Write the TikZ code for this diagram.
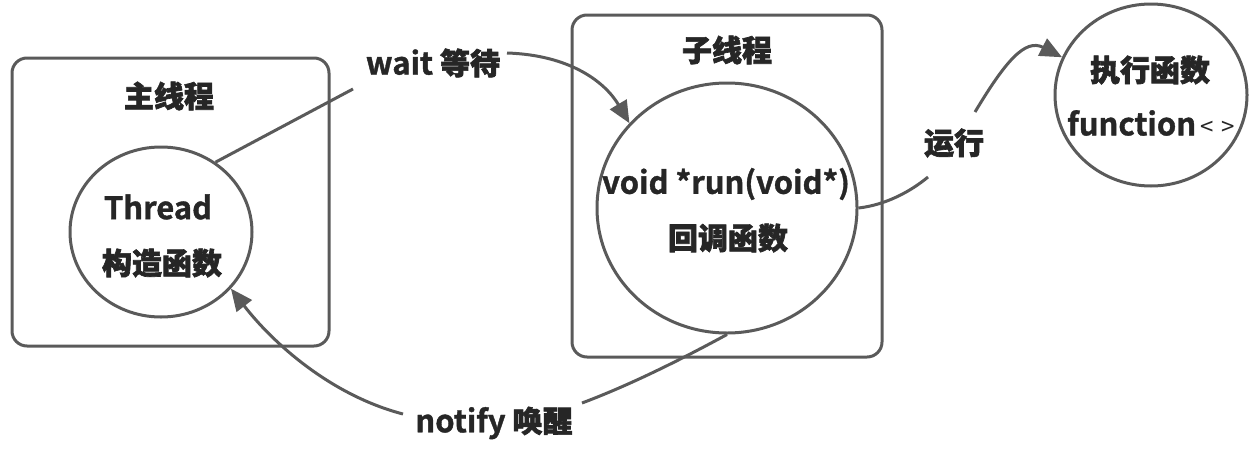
\documentclass[tikz,border=0pt]{standalone}
\usepackage{fontspec}
\setmainfont{Noto Sans CJK SC}[BoldFont={Noto Sans CJK SC Bold},BoldFeatures={FakeBold=1.2}]
\newfontfamily\cjk{Noto Sans CJK SC Bold}[FakeBold=2.2]
\usetikzlibrary{shapes.geometric,arrows.meta}
\definecolor{linegray}{HTML}{5A5A5A}
\definecolor{textgray}{HTML}{262626}
\tikzset{
  threadbox/.style={draw=linegray,line width=3pt,rounded corners=15pt,rectangle},
  fnball/.style={draw=linegray,line width=3pt,ellipse,inner sep=0pt},
  lbl/.style={text=textgray,font=\fontsize{31}{32}\selectfont\bfseries},
  link/.style={draw=linegray,line width=3pt},
  linkarrow/.style={link,-{Triangle[length=22pt,width=19pt]}}
}
\newcommand{\zh}[1]{{\cjk\fontsize{30}{30}\selectfont #1}}
\begin{document}
\begin{tikzpicture}[x=1pt,y=-1pt]
    \useasboundingbox (0,0) rectangle (1257,458);
    % boxes
    \node[threadbox,minimum width=317pt,minimum height=288pt] (mainbox) at (170.5,202) {};
    \node[threadbox,minimum width=310pt,minimum height=342pt] (subbox) at (727,186) {};
    \node[lbl] (maintitle) at (169,96) {\zh{主线程}};
    \node[lbl] (subtitle) at (727,50) {\zh{子线程}};
    % circles
    \node[fnball,minimum width=182pt,minimum height=170pt] (mainc) at (161,232) {};
    \node[fnball,minimum width=260pt,minimum height=250pt] (subc) at (727,208) {};
    \node[fnball,minimum width=192pt,minimum height=182pt] (runc) at (1151,95) {};
    \node[lbl] (thread) at (158,207) {Thread};
    \node[lbl] (ctor) at (162,263) {\zh{构造函数}};
    \node[lbl] (run) at (726,184) {void *run(void*)};
    \node[lbl] (callback) at (728,238) {\zh{回调函数}};
    \node[lbl] (exec) at (1150,70) {\zh{执行函数}};
    \node[lbl] (func) at (1151,123) {function{\fontsize{24}{24}\selectfont\mdseries\,<\,\,>}};
    % labels
    \node[lbl] (wait) at (433,63) {wait \zh{等待}};
    \node[lbl] (exe) at (954,143) {\zh{运行}};
    \node[lbl] (notify) at (494,423) {notify \zh{唤醒}};
    \coordinate (w1) at (353,89);
    \coordinate (w2) at (507,53);
    \coordinate (r1) at (928,177);
    \coordinate (r2) at (975,112);
    \coordinate (n1) at (582,403);
    \coordinate (n2) at (403,414);
    % connectors
    \draw[link] (mainc.52) -- (w1);
    \draw[linkarrow] (w2) .. controls (570,55) and (605,82) .. (subc.139);
    \draw[link] (subc.east) .. controls (885,205) and (910,192) .. (r1);
    \draw[linkarrow] (r2) .. controls (1005,62) and (1025,38) .. (runc.157);
    \draw[link] (subc.south) .. controls (680,360) and (630,385) .. (n1);
    \draw[linkarrow] (n2) .. controls (330,395) and (272,342) .. (mainc.-39);
\end{tikzpicture}
\end{document}
